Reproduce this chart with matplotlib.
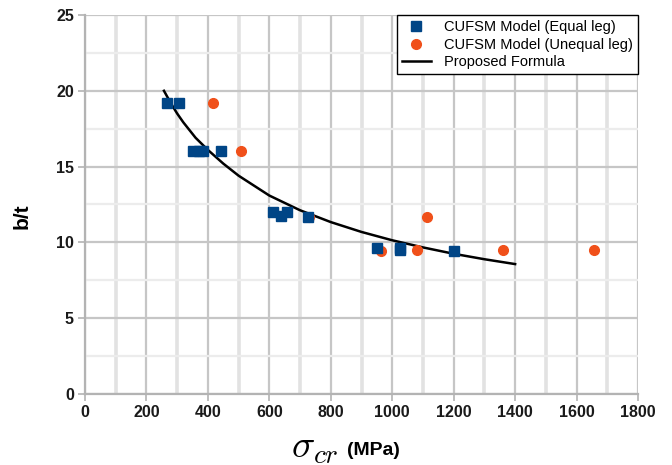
import matplotlib
matplotlib.use("Agg")
import matplotlib.pyplot as plt
from matplotlib.ticker import MultipleLocator

plt.rcParams['font.family'] = ['Liberation Sans', 'DejaVu Sans']
plt.rcParams['mathtext.fontset'] = 'cm'

# CUFSM results, equal-leg sections
equal_x = [266, 306, 352, 371, 383, 442, 613, 638, 658, 725, 951, 1025, 1025, 1201]
equal_y = [19.2, 19.2, 16.0, 16.0, 16.0, 16.0, 12.0, 11.75, 12.0, 11.7, 9.6, 9.6, 9.5, 9.45]

# CUFSM results, unequal-leg sections
unequal_x = [418, 509, 730, 962, 1082, 1112, 1360, 1658]
unequal_y = [19.2, 16.0, 11.7, 9.45, 9.5, 11.7, 9.5, 9.5]

# proposed formula
formula_x = [257, 280, 300, 320, 360, 400, 450, 500, 600, 700, 800, 900, 1000, 1100, 1200, 1300, 1400]
formula_y = [20.0, 19.16, 18.5, 17.92, 16.9, 16.1, 15.2, 14.4, 13.09, 12.12, 11.34, 10.69, 10.14,
             9.67, 9.25, 8.89, 8.57]

fig = plt.figure(figsize=(6.72, 4.65), dpi=100)
ax = fig.add_axes([85 / 672, 1 - 394 / 465, 553 / 672, 379 / 465])

ax.plot(formula_x, formula_y, color='black', linewidth=1.8, label='Proposed Formula', zorder=3)
ax.plot(equal_x, equal_y, linestyle='none', marker='s', markersize=7, color='#004586',
        label='CUFSM Model (Equal leg)', zorder=5)
ax.plot(unequal_x, unequal_y, linestyle='none', marker='o', markersize=7, color='#f0501a',
        label='CUFSM Model (Unequal leg)', zorder=4)

ax.set_xlim(0, 1800)
ax.set_ylim(0, 25)
ax.xaxis.set_major_locator(MultipleLocator(200))
ax.xaxis.set_minor_locator(MultipleLocator(100))
ax.yaxis.set_major_locator(MultipleLocator(5))
ax.yaxis.set_minor_locator(MultipleLocator(2.5))

ax.grid(True, which='major', color='#c6c6c6', linewidth=1.6)
ax.grid(True, which='minor', axis='x', color='#e2e2e2', linewidth=2.6)
ax.grid(True, which='minor', axis='y', color='#ececec', linewidth=1.6)
ax.set_axisbelow(True)

for side in ['top', 'right']:
    ax.spines[side].set_visible(False)
for side in ['left', 'bottom']:
    ax.spines[side].set_color('#b3b3b3')
    ax.spines[side].set_linewidth(1.6)

ax.tick_params(which='major', length=5, width=1.2, color='#b3b3b3', labelsize=11.5, pad=3,
               labelcolor='#1a1a1a')
ax.tick_params(which='minor', length=0)
for lbl in ax.get_xticklabels() + ax.get_yticklabels():
    lbl.set_fontweight('bold')

handles, labels = ax.get_legend_handles_labels()
order = [1, 2, 0]
leg = ax.legend([handles[i] for i in order], [labels[i] for i in order], loc='upper right',
                fontsize=10.5, frameon=True, fancybox=False, edgecolor='black', framealpha=1,
                borderaxespad=0, handlelength=2.0, handletextpad=0.9, borderpad=0.35,
                labelspacing=0.25)
leg.get_frame().set_linewidth(1.0)

fig.text(22 / 672, 1 - 216 / 465, 'b/t', rotation=90, ha='center', va='center',
         fontsize=15, fontweight='bold')
fig.text(339 / 672, 1 - 448 / 465, r'$\sigma_{cr}$', ha='right', va='center', fontsize=28)
fig.text(347 / 672, 1 - 450 / 465, '(MPa)', ha='left', va='center', fontsize=14, fontweight='bold')

fig.savefig('out.png', dpi=100)
